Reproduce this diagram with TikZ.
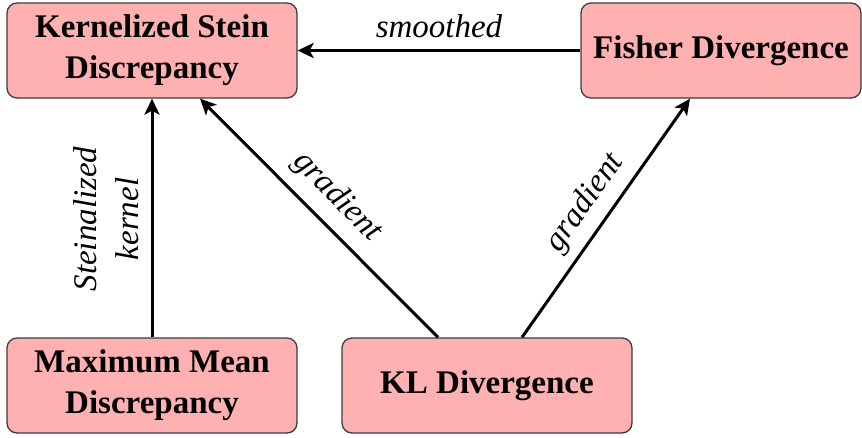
\documentclass[tikz,border=0pt]{standalone}
\usepackage{fontspec}
\setmainfont{Liberation Serif}
\usetikzlibrary{arrows.meta}
\definecolor{boxpink}{RGB}{255,176,176}
\definecolor{boxline}{RGB}{60,60,60}
\begin{document}
\begin{tikzpicture}[x=1pt,y=1pt,
  box/.style={draw=boxline, line width=1.3pt, fill=boxpink, rounded corners=10pt,
    minimum height=95pt, align=center, inner sep=0pt,
    font=\fontsize{33}{41}\selectfont\bfseries},
  arr/.style={line width=3pt, -{Stealth[length=16pt,width=15pt,inset=4pt]}},
  lab/.style={font=\fontsize{33}{42}\selectfont\itshape, inner sep=0pt, align=center}]
\useasboundingbox (0,0) rectangle (862,-437);
\node[box, minimum width=290pt] (ksd) at (152,-50.5) {Kernelized Stein\\Discrepancy};
\node[box, minimum width=280pt] (fd) at (721,-50.5) {Fisher Divergence};
\node[box, minimum width=290pt] (mmd) at (152,-385.5) {Maximum Mean\\Discrepancy};
\node[box, minimum width=290pt] (kl) at (487,-385.5) {KL Divergence};

\draw[arr] (fd.west) -- (ksd.east) node[lab, midway, above=11pt] (sm) {smoothed};
\draw[arr] (mmd.north) -- (ksd.south);
\node[lab, rotate=90] (sk) at (106,-219) {Steinalized\\kernel};
\draw[arr] ([xshift=-49pt]kl.north) -- ([xshift=48pt]ksd.south);
\draw[arr] ([xshift=35pt]kl.north) -- ([xshift=-31pt]fd.south);
\node[lab, rotate=-45.5] (g1) at (337,-197) {gradient};
\node[lab, rotate=54.5] (g2) at (585,-203) {gradient};
\end{tikzpicture}
\end{document}
